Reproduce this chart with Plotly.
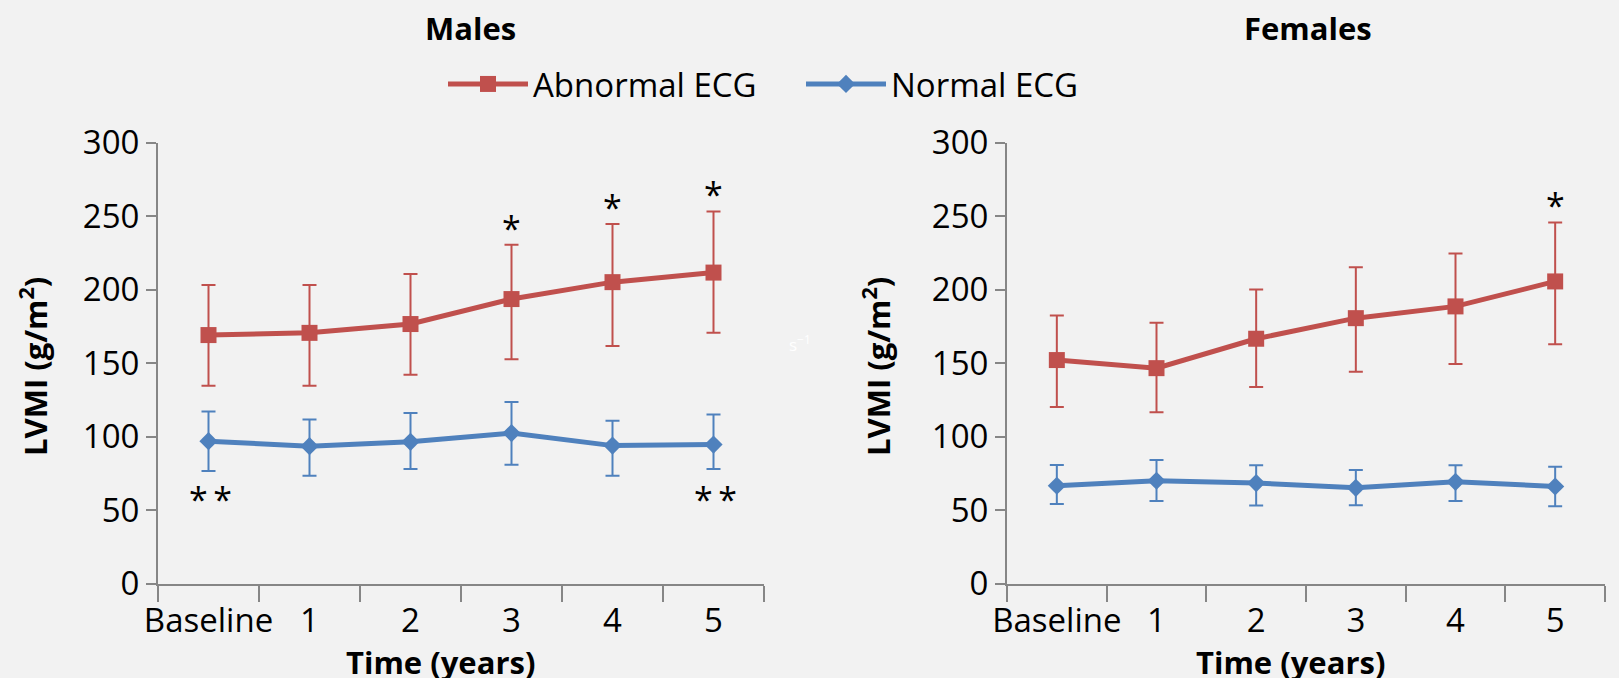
import plotly.graph_objects as go

categories = ["Baseline", "1", "2", "3", "4", "5"]

male_abn = [169, 170.5, 176.5, 193.5, 205, 211.5]
male_abn_up = [203, 203, 210.5, 230.5, 244.5, 253]
male_abn_lo = [134.5, 134.5, 142, 152.5, 161.5, 170.5]
male_norm = [96.8, 93.4, 96.4, 102.3, 93.8, 94.5]
male_norm_up = [117, 111.6, 116, 123.5, 110.7, 115]
male_norm_lo = [76.5, 73.3, 77.9, 80.8, 73.3, 77.9]

fem_abn = [152, 146.5, 166.5, 180.5, 188.5, 205.5]
fem_abn_up = [182.3, 177.3, 200, 215.2, 224.5, 245.6]
fem_abn_lo = [120, 116.5, 133.6, 144, 149.3, 162.8]
fem_norm = [66.5, 69.9, 68.3, 65.1, 69.2, 66]
fem_norm_up = [80.6, 84, 80.4, 77.2, 80.4, 79.5]
fem_norm_lo = [54, 56.2, 53, 53.3, 56.2, 52.6]

male_star1 = ["3", "4", "5"]
male_star2 = ["Baseline", "5"]
fem_star1 = ["5"]

RED = "#c0504d"
BLUE = "#4f81bd"
AX = "#868686"
BG = "#f2f2f2"
FONT = "Open Sans"


def err(mean, up, lo, color):
    return dict(type="data", symmetric=False,
                array=[u - m for u, m in zip(up, mean)],
                arrayminus=[m - l for m, l in zip(mean, lo)],
                color=color, thickness=2, width=7)


fig = go.Figure()
panels = [
    ("x", "y", male_abn, male_abn_up, male_abn_lo, male_norm, male_norm_up, male_norm_lo, True),
    ("x2", "y2", fem_abn, fem_abn_up, fem_abn_lo, fem_norm, fem_norm_up, fem_norm_lo, False),
]
for xa, ya, a, au, al, n, nu, nl, leg in panels:
    fig.add_trace(go.Scatter(
        x=categories, y=a, xaxis=xa, yaxis=ya, mode="lines+markers",
        name="Abnormal ECG", showlegend=leg, legendrank=1,
        line=dict(color=RED, width=5),
        marker=dict(symbol="square", size=16, color=RED),
        error_y=err(a, au, al, RED)))
    fig.add_trace(go.Scatter(
        x=categories, y=n, xaxis=xa, yaxis=ya, mode="lines+markers",
        name="Normal ECG", showlegend=leg, legendrank=2,
        line=dict(color=BLUE, width=5),
        marker=dict(symbol="diamond", size=14, color=BLUE),
        error_y=err(n, nu, nl, BLUE)))

annotations = []
idx = {c: i for i, c in enumerate(categories)}
STAR = dict(family=FONT, size=34, color="black")
for c in male_star1:
    annotations.append(dict(x=c, y=male_abn_up[idx[c]] + 13, xref="x", yref="y", text="*",
                            showarrow=False, font=STAR, yanchor="middle", yshift=-2))
for c in male_star2:
    annotations.append(dict(x=c, y=60, xref="x", yref="y", text="*\u2009*",
                            showarrow=False, font=STAR, yanchor="middle", yshift=-4, xshift=2))
for c in fem_star1:
    annotations.append(dict(x=c, y=fem_abn_up[idx[c]] + 13, xref="x2", yref="y2", text="*",
                            showarrow=False, font=STAR, yanchor="middle", yshift=-2))

W, H = 1619, 678
titles = [("Males", 470, 28), ("Females", 1308, 28)]
for t, px, py in titles:
    annotations.append(dict(x=px / W, y=1 - py / H, xref="paper", yref="paper", text="<b>" + t + "</b>",
                            showarrow=False, font=dict(family=FONT, size=31, color="black"),
                            xanchor="center", yanchor="middle"))
for px in (441, 1290):
    annotations.append(dict(x=px / W, y=1 - 662 / H, xref="paper", yref="paper", text="<b>Time (years)</b>",
                            showarrow=False, font=dict(family=FONT, size=31, color="black"),
                            xanchor="center", yanchor="middle"))
for px in (33, 876):
    annotations.append(dict(x=px / W, y=1 - 367 / H, xref="paper", yref="paper",
                            text="<b>LVMI (g/m<sup>2</sup>)</b>", textangle=-90,
                            showarrow=False, font=dict(family=FONT, size=31, color="black"),
                            xanchor="center", yanchor="middle"))
annotations.append(dict(x=800 / W, y=1 - 343 / H, xref="paper", yref="paper", text="s<sup>−1</sup>",
                        showarrow=False, font=dict(family=FONT, size=17, color="white"),
                        xanchor="center", yanchor="middle"))

xcommon = dict(type="category", categoryorder="array", categoryarray=categories,
               showline=True, linecolor=AX, linewidth=2, ticks="outside", tickson="boundaries",
               ticklen=16, tickwidth=2, tickcolor=AX, showgrid=False, zeroline=False,
               tickangle=0, automargin=False, ticklabelstandoff=7,
               tickfont=dict(family=FONT, size=33, color="black"), range=[-0.5, 5.5])
ycommon = dict(range=[0, 300], tickvals=[0, 50, 100, 150, 200, 250, 300],
               showline=True, linecolor=AX, linewidth=2, ticks="outside", ticklen=10,
               tickwidth=2, tickcolor=AX, showgrid=False, zeroline=False, automargin=False,
               tickfont=dict(family=FONT, size=33, color="black"))

ydom = [1 - 583.5 / H, 1 - 142.5 / H]
fig.update_layout(
    width=W, height=H, margin=dict(l=0, r=0, t=0, b=0, autoexpand=False),
    paper_bgcolor=BG, plot_bgcolor=BG,
    xaxis=dict(xcommon, domain=[158 / W, 764 / W], anchor="y"),
    xaxis2=dict(xcommon, domain=[1007 / W, 1605 / W], anchor="y2"),
    yaxis=dict(ycommon, domain=ydom, anchor="x"),
    yaxis2=dict(ycommon, domain=ydom, anchor="x2"),
    legend=dict(orientation="h", x=443 / W, y=1 - 84 / H, xanchor="left", yanchor="middle",
                font=dict(family=FONT, size=33, color="black"), bgcolor="rgba(0,0,0,0)",
                itemwidth=80, entrywidth=263, entrywidthmode="pixels", traceorder="normal"),
    annotations=annotations,
    showlegend=True,
)

fig.write_html("out.html", config={"displayModeBar": False},
               post_script="document.body.style.margin='0';document.body.style.overflow='hidden';")
